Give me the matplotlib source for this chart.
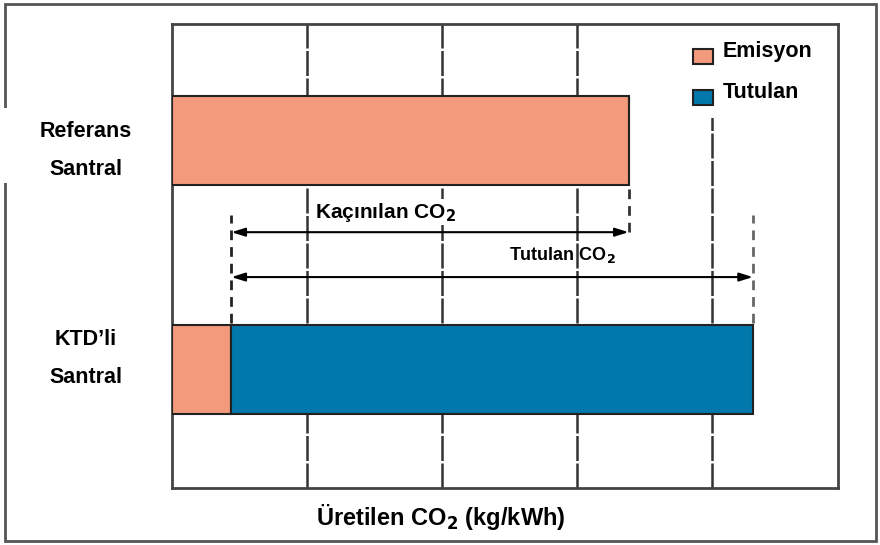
import matplotlib
matplotlib.use("Agg")
import matplotlib.pyplot as plt
from matplotlib.patches import Rectangle, Patch
from matplotlib.legend_handler import HandlerPatch

plt.rcParams['font.family'] = ['Liberation Sans', 'DejaVu Sans']
plt.rcParams['font.weight'] = 'bold'

# ---- data ----
categories = ["KTD\u2019li\nSantral", "Referans\nSantral"]
emisyon = [0.44, 3.38]
tutulan = [3.86, 0.0]
series_names = ["Emisyon", "Tutulan"]
colors = ["#F29A7B", "#0078AB"]
xlabel = "Üretilen CO$_\\mathbf{2}$ (kg/kWh)"
kacinilan_label = "Kaçınılan CO$_\\mathbf{2}$"
tutulan_label = "Tutulan CO$_\\mathbf{2}$"

W, H = 880, 545
fig = plt.figure(figsize=(W / 100, H / 100), dpi=100)

# outer border
fig.patches.append(Rectangle((5 / W, 4 / H), 871 / W, 537 / H, transform=fig.transFigure,
                             fill=False, edgecolor="#555555", linewidth=2, zorder=-2))
# white box behind the upper label (covers border)
fig.patches.append(Rectangle((0, 1 - 183 / H), 165 / W, 75 / H, transform=fig.transFigure,
                             facecolor="white", edgecolor="none", zorder=-1))

ax = fig.add_axes([172 / W, 1 - 488 / H, 666 / W, 464 / H])
ypos = [0, 1]
bh = 0.39
ax.barh(ypos, emisyon, height=bh, color=colors[0], edgecolor="#222222", linewidth=1.5, zorder=3)
ax.barh(ypos, tutulan, left=emisyon, height=bh, color=colors[1], edgecolor="#222222",
        linewidth=1.5, zorder=3)

ax.set_xlim(0, 4.93)
ax.set_ylim(-0.517, 1.509)
ax.set_xticks([1, 2, 3, 4])
ax.set_xticklabels([])
ax.tick_params(axis='x', length=0)
ax.grid(axis='x', linestyle=(0, (10, 1)), color="#333333", linewidth=1.8, zorder=1)
ax.set_yticks([])
for s in ax.spines.values():
    s.set_linewidth(2)
    s.set_color("#444444")

# category labels
label_offsets = [11, -10]
for cat, y, off in zip(categories, ypos, label_offsets):
    ax.annotate(cat, xy=(0, y), xycoords=('axes fraction', 'data'), xytext=(-86, off),
                textcoords='offset pixels', ha='center', va='center', fontsize=15.5,
                fontweight='bold', linespacing=2.1, annotation_clip=False)

ax.set_xlabel(xlabel, fontsize=17, fontweight='bold')
ax.xaxis.set_label_coords((441 - 172) / 666, -(517 - 488) / 464)
ax.xaxis.label.set_va('center')

# avoided / captured arrows
ref_total = emisyon[1] + tutulan[1]
ktd_em = emisyon[0]
ktd_total = emisyon[0] + tutulan[0]
y_k, y_t = 0.60, 0.404
akw = dict(arrowstyle='<|-|>,head_length=0.8,head_width=0.25', color='black', lw=1.5,
           shrinkA=0, shrinkB=0)
ax.annotate('', xy=(ktd_em, y_k), xytext=(ref_total, y_k), arrowprops=akw, zorder=4)
ax.annotate('', xy=(ktd_em, y_t), xytext=(ktd_total, y_t), arrowprops=akw, zorder=4)

dash = dict(linestyle=(0, (3.5, 2.5)), linewidth=2.0, zorder=2)
ax.plot([ktd_em, ktd_em], [0.203, 0.675], color='#222222', **dash)
ax.plot([ref_total, ref_total], [0.60, 0.806], color='#333333', **dash)
ax.plot([ktd_total, ktd_total], [0.203, 0.675], color='#666666', **dash)

ax.text(1.58, 0.688, kacinilan_label, fontsize=15, fontweight='bold', ha='center', va='center',
        zorder=5, bbox=dict(facecolor='white', edgecolor='none', pad=1))
ax.text(2.89, 0.50, tutulan_label, fontsize=13, fontweight='bold', ha='center', va='center',
        zorder=5)


def lowered_rect(legend, orig_handle, xdescent, ydescent, width, height, fontsize):
    return Rectangle((-xdescent, -ydescent - 5), width, height)


handles = [Patch(facecolor=colors[i], edgecolor='#222222', linewidth=1.5) for i in range(2)]
leg = ax.legend(handles, series_names, loc='upper right', bbox_to_anchor=(0.985, 0.997),
                frameon=True, facecolor='white', edgecolor='none', framealpha=1,
                handlelength=0.93, handleheight=0.74, labelspacing=0.93, handletextpad=0.47,
                borderpad=0.72, borderaxespad=0, prop={'weight': 'bold', 'size': 15.5},
                handler_map={Patch: HandlerPatch(patch_func=lowered_rect)})
leg.get_frame().set_boxstyle('square', pad=0)
leg.set_zorder(2.4)

fig.savefig("out.png", dpi=100, facecolor='white')
